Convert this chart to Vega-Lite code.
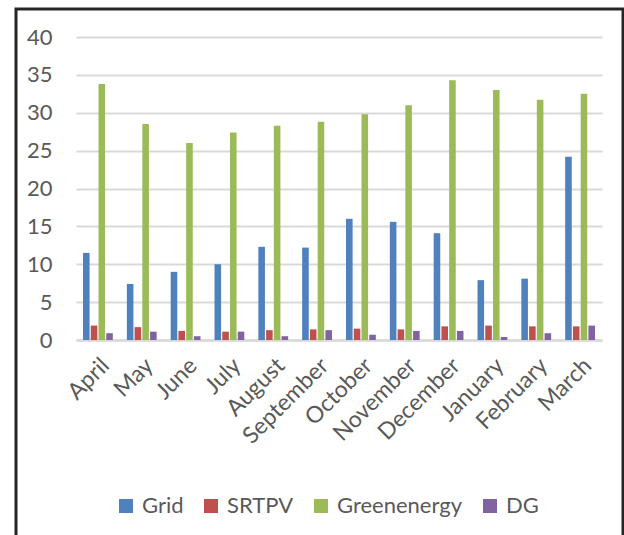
{
  "$schema": "https://vega.github.io/schema/vega-lite/v6.json",
  "autosize": "none",
  "width": 607,
  "height": 530,
  "padding": {"left": 16, "top": 9, "right": 1, "bottom": 0},
  "background": "white",
  "config": {"view": {"stroke": "#262626", "strokeWidth": 3}, "font": "Lato"},
  "data": {"values": [
    {"month": "April", "series": "Grid", "value": 11.5},
    {"month": "April", "series": "SRTPV", "value": 1.9},
    {"month": "April", "series": "Greenenergy", "value": 33.8},
    {"month": "April", "series": "DG", "value": 0.9},
    {"month": "May", "series": "Grid", "value": 7.4},
    {"month": "May", "series": "SRTPV", "value": 1.7},
    {"month": "May", "series": "Greenenergy", "value": 28.5},
    {"month": "May", "series": "DG", "value": 1.1},
    {"month": "June", "series": "Grid", "value": 9.0},
    {"month": "June", "series": "SRTPV", "value": 1.2},
    {"month": "June", "series": "Greenenergy", "value": 26.0},
    {"month": "June", "series": "DG", "value": 0.5},
    {"month": "July", "series": "Grid", "value": 10.0},
    {"month": "July", "series": "SRTPV", "value": 1.1},
    {"month": "July", "series": "Greenenergy", "value": 27.4},
    {"month": "July", "series": "DG", "value": 1.1},
    {"month": "August", "series": "Grid", "value": 12.3},
    {"month": "August", "series": "SRTPV", "value": 1.3},
    {"month": "August", "series": "Greenenergy", "value": 28.3},
    {"month": "August", "series": "DG", "value": 0.5},
    {"month": "September", "series": "Grid", "value": 12.2},
    {"month": "September", "series": "SRTPV", "value": 1.4},
    {"month": "September", "series": "Greenenergy", "value": 28.8},
    {"month": "September", "series": "DG", "value": 1.3},
    {"month": "October", "series": "Grid", "value": 16.0},
    {"month": "October", "series": "SRTPV", "value": 1.5},
    {"month": "October", "series": "Greenenergy", "value": 29.8},
    {"month": "October", "series": "DG", "value": 0.7},
    {"month": "November", "series": "Grid", "value": 15.6},
    {"month": "November", "series": "SRTPV", "value": 1.4},
    {"month": "November", "series": "Greenenergy", "value": 31.0},
    {"month": "November", "series": "DG", "value": 1.2},
    {"month": "December", "series": "Grid", "value": 14.1},
    {"month": "December", "series": "SRTPV", "value": 1.8},
    {"month": "December", "series": "Greenenergy", "value": 34.3},
    {"month": "December", "series": "DG", "value": 1.2},
    {"month": "January", "series": "Grid", "value": 7.9},
    {"month": "January", "series": "SRTPV", "value": 1.9},
    {"month": "January", "series": "Greenenergy", "value": 33.0},
    {"month": "January", "series": "DG", "value": 0.4},
    {"month": "February", "series": "Grid", "value": 8.1},
    {"month": "February", "series": "SRTPV", "value": 1.8},
    {"month": "February", "series": "Greenenergy", "value": 31.7},
    {"month": "February", "series": "DG", "value": 0.9},
    {"month": "March", "series": "Grid", "value": 24.2},
    {"month": "March", "series": "SRTPV", "value": 1.8},
    {"month": "March", "series": "Greenenergy", "value": 32.5},
    {"month": "March", "series": "DG", "value": 1.9}
  ]},
  "mark": {"type": "bar"},
  "encoding": {
    "x": {
      "field": "month", "type": "nominal",
      "sort": ["April","May","June","July","August","September","October","November","December","January","February","March"],
      "scale": {"range": [60, 586], "paddingInner": 0.32, "paddingOuter": 0.16},
      "axis": {"title": null, "orient": "bottom", "offset": -199, "domain": true, "domainColor": "#d9d9d9", "domainWidth": 2.5, "ticks": false, "grid": false, "labelAngle": -45, "labelAlign": "right", "labelBaseline": "top", "labelPadding": 14, "labelFontSize": 23, "labelColor": "#595959", "labelFont": "Lato"}
    },
    "xOffset": {"field": "series", "type": "nominal", "sort": ["Grid","SRTPV","Greenenergy","DG"], "scale": {"paddingInner": 0.15}},
    "y": {
      "field": "value", "type": "quantitative",
      "scale": {"domain": [0, 40], "range": [331, 28], "nice": false, "zero": true},
      "axis": {"title": null, "orient": "left", "offset": -60, "values": [0,5,10,15,20,25,30,35,40], "domain": false, "ticks": false, "grid": true, "gridColor": "#d9d9d9", "gridWidth": 2, "labelPadding": 24, "labelFontSize": 22, "labelColor": "#595959", "labelFont": "Lato"}
    },
    "color": {
      "field": "series", "type": "nominal",
      "sort": ["Grid","SRTPV","Greenenergy","DG"],
      "scale": {"domain": ["Grid","SRTPV","Greenenergy","DG"], "range": ["#4f81bd","#c0504d","#9bbb59","#8064a2"]},
      "legend": {"title": null, "orient": "none", "legendX": 99, "legendY": 486, "direction": "horizontal", "symbolType": "square", "symbolSize": 196, "symbolStrokeWidth": 0, "labelFontSize": 22, "labelColor": "#595959", "labelFont": "Lato", "labelOffset": 5, "columnPadding": 16}
    }
  }
}
